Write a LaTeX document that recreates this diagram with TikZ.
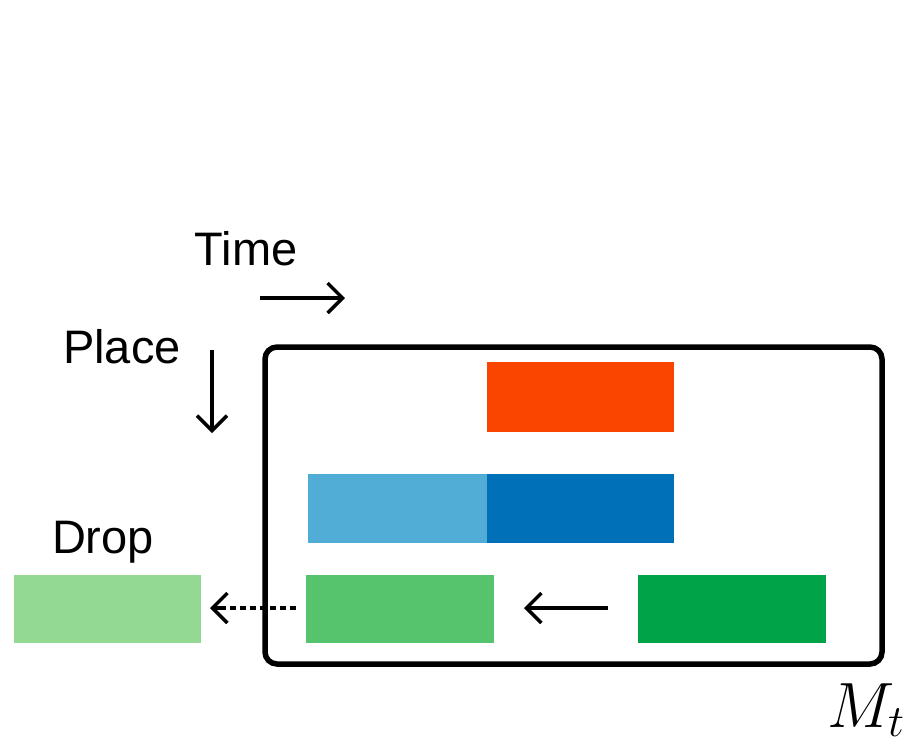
\documentclass[tikz,border=0pt]{standalone}
\usepackage{fix-cm}
\usepackage{fontspec}
\setmainfont{Liberation Sans}
\usetikzlibrary{arrows.meta}
\definecolor{cOrange}{HTML}{FA4500}
\definecolor{cLightBlue}{HTML}{52ADD6}
\definecolor{cDarkBlue}{HTML}{0071B8}
\definecolor{cMidGreen}{HTML}{55C46C}
\definecolor{cDarkGreen}{HTML}{00A347}
\definecolor{cPaleGreen}{HTML}{93D994}
\tikzset{
  lbl/.style={inner sep=0pt, font=\fontsize{47}{50}\selectfont},
  flow/.style={line width=3.5pt, -{Straight Barb[length=15pt, width=30pt, line width=3.5pt]}},
}
\begin{document}
\begin{tikzpicture}[x=1pt, y=-1pt]
  \useasboundingbox (0,0) rectangle (922,745);

  % memory frame
  \draw[line width=5.5pt, rounded corners=12pt] (265,347) rectangle (882,664);

  % blocks inside the frame
  \fill[cOrange]    (487,362) rectangle (674,432);
  \fill[cLightBlue] (308,474) rectangle (487,543);
  \fill[cDarkBlue]  (487,474) rectangle (674,543);
  \fill[cMidGreen]  (306,575) rectangle (494,643);
  \fill[cDarkGreen] (638,575) rectangle (826,643);
  % dropped block
  \fill[cPaleGreen] (14,575) rectangle (201,643);

  \coordinate (midL) at (296,608);
  \coordinate (dotEnd) at (220,608);
  \coordinate (dropR) at (210,608);
  \coordinate (newL) at (608,608);
  \coordinate (newHead) at (524,608);

  % axis labels
  \node[lbl] (time) at (246,249) {Time};
  \node[lbl] (place) at (122,347) {Place};
  \node[lbl] (drop) at (103,542) {Drop};
  \node[inner sep=0pt, font=\fontsize{64}{70}\selectfont] (mt) at (866,710) {$M_t$};

  \coordinate (tA) at (260,298);
  \coordinate (tB) at (345,298);
  \coordinate (pA) at (212,350);
  \coordinate (pB) at (212,433);

  % direction arrows
  \draw[flow] (tA) -- (tB);
  \draw[flow] (pA) -- (pB);
  \draw[flow] (newL) -- (newHead);
  \draw[line width=3.5pt, dash pattern=on 6pt off 4pt] (midL) -- (dotEnd);
  \draw[flow] (dotEnd) -- (dropR);
\end{tikzpicture}
\end{document}
